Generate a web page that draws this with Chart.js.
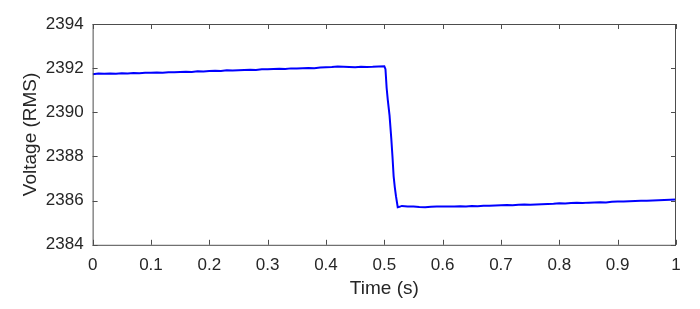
<!DOCTYPE html>
<html>
<head>
<meta charset="utf-8">
<script src="https://cdn.jsdelivr.net/npm/chart.js@4/dist/chart.umd.min.js"></script>
<style>
  html, body { margin: 0; padding: 0; background: #fff; }
  #wrap { width: 700px; height: 309px; }
</style>
</head>
<body>
<div id="wrap"><canvas id="chart" width="700" height="309"></canvas></div>
<script>
// time (s) and RMS voltage
const times = [
  0.00, 0.01, 0.02, 0.03, 0.04, 0.05, 0.06, 0.07, 0.08, 0.09,
  0.10, 0.11, 0.12, 0.13, 0.14, 0.15, 0.16, 0.17, 0.18, 0.19,
  0.20, 0.21, 0.22, 0.23, 0.24, 0.25, 0.26, 0.27, 0.28, 0.29,
  0.30, 0.31, 0.32, 0.33, 0.34, 0.35, 0.36, 0.37, 0.38, 0.39,
  0.40, 0.41, 0.42, 0.43, 0.44, 0.45, 0.46, 0.47, 0.48, 0.49,
  0.50, 0.502, 0.504, 0.506, 0.509, 0.512, 0.514, 0.516, 0.518, 0.520, 0.523, 0.526,
  0.53, 0.54, 0.55, 0.56, 0.57, 0.58, 0.59,
  0.60, 0.61, 0.62, 0.63, 0.64, 0.65, 0.66, 0.67, 0.68, 0.69,
  0.70, 0.71, 0.72, 0.73, 0.74, 0.75, 0.76, 0.77, 0.78, 0.79,
  0.80, 0.81, 0.82, 0.83, 0.84, 0.85, 0.86, 0.87, 0.88, 0.89,
  0.90, 0.91, 0.92, 0.93, 0.94, 0.95, 0.96, 0.97, 0.98, 0.99, 1.00
];
const voltage = [
  2391.72, 2391.76, 2391.75, 2391.76, 2391.75, 2391.77, 2391.76, 2391.78, 2391.77, 2391.79,
  2391.79, 2391.80, 2391.79, 2391.82, 2391.81, 2391.83, 2391.84, 2391.83, 2391.86, 2391.85,
  2391.87, 2391.88, 2391.87, 2391.90, 2391.89, 2391.91, 2391.92, 2391.93, 2391.92, 2391.95,
  2391.95, 2391.96, 2391.97, 2391.96, 2391.99, 2391.98, 2392.00, 2392.01, 2392.00, 2392.03,
  2392.04, 2392.05, 2392.07, 2392.06, 2392.05, 2392.04, 2392.06, 2392.05, 2392.06, 2392.08,
  2392.09, 2391.95, 2391.10, 2390.55, 2389.85, 2388.80, 2388.00, 2387.10, 2386.60, 2386.20, 2385.70, 2385.72,
  2385.76, 2385.74, 2385.73, 2385.71, 2385.70, 2385.72, 2385.73,
  2385.73, 2385.74, 2385.73, 2385.75, 2385.74, 2385.76, 2385.75, 2385.77, 2385.77, 2385.78,
  2385.79, 2385.80, 2385.79, 2385.81, 2385.82, 2385.81, 2385.83, 2385.84, 2385.85, 2385.86,
  2385.88, 2385.87, 2385.89, 2385.90, 2385.89, 2385.91, 2385.92, 2385.93, 2385.92, 2385.95,
  2385.96, 2385.96, 2385.97, 2385.98, 2385.99, 2386.00, 2386.01, 2386.02, 2386.03, 2386.04, 2386.05
];
const xTicks = [0, 0.1, 0.2, 0.3, 0.4, 0.5, 0.6, 0.7, 0.8, 0.9, 1];
const yTicks = [2384, 2386, 2388, 2390, 2392, 2394];

const axisColor = '#4d4d4d';
const textColor = '#262626';
const fontFamily = '"Liberation Sans", Arial, sans-serif';

// MATLAB-style box with inward ticks on all four sides
const boxTicks = {
  id: 'boxTicks',
  afterDraw(chart) {
    const ctx = chart.ctx;
    const a = chart.chartArea;
    const xs = chart.scales.x, ys = chart.scales.y;
    const len = 5;
    ctx.save();
    ctx.strokeStyle = axisColor;
    ctx.lineWidth = 1;
    ctx.strokeRect(a.left + 0.5, a.top + 0.5, a.right - a.left - 1, a.bottom - a.top);
    ctx.beginPath();
    xTicks.forEach(v => {
      const px = Math.round(xs.getPixelForValue(v)) + 0.5;
      ctx.moveTo(px, a.bottom); ctx.lineTo(px, a.bottom - len);
      ctx.moveTo(px, a.top); ctx.lineTo(px, a.top + len);
    });
    yTicks.forEach(v => {
      const py = Math.round(ys.getPixelForValue(v)) + 0.5;
      ctx.moveTo(a.left, py); ctx.lineTo(a.left + len, py);
      ctx.moveTo(a.right, py); ctx.lineTo(a.right - len, py);
    });
    ctx.stroke();
    ctx.restore();
  }
};

new Chart(document.getElementById('chart'), {
  type: 'line',
  data: {
    datasets: [{
      data: times.map((t, i) => ({ x: t, y: voltage[i] })),
      borderColor: '#0000ff',
      borderWidth: 2,
      pointRadius: 0,
      tension: 0,
      fill: false
    }]
  },
  options: {
    responsive: false,
    animation: false,
    layout: { padding: { top: 24, right: 24, bottom: 9, left: 19 } },
    plugins: { legend: { display: false }, tooltip: { enabled: false } },
    scales: {
      x: {
        type: 'linear',
        min: 0, max: 1,
        afterBuildTicks: s => { s.ticks = xTicks.map(v => ({ value: v })); },
        grid: { display: false, drawTicks: false },
        border: { display: false },
        ticks: {
          color: textColor, padding: 10,
          font: { family: fontFamily, size: 17 },
          callback: v => String(+v.toFixed(1))
        },
        title: {
          display: true, text: 'Time (s)', color: textColor,
          font: { family: fontFamily, size: 19 }, padding: { top: -8, bottom: 0 }
        }
      },
      y: {
        min: 2384, max: 2394,
        afterBuildTicks: s => { s.ticks = yTicks.map(v => ({ value: v })); },
        grid: { display: false, drawTicks: false },
        border: { display: false },
        ticks: {
          color: textColor, padding: 9,
          font: { family: fontFamily, size: 17 },
          callback: v => String(v)
        },
        title: {
          display: true, text: 'Voltage (RMS)', color: textColor,
          font: { family: fontFamily, size: 19 }, padding: { top: 0, bottom: -5 }
        }
      }
    }
  },
  plugins: [boxTicks]
});
</script>
</body>
</html>
